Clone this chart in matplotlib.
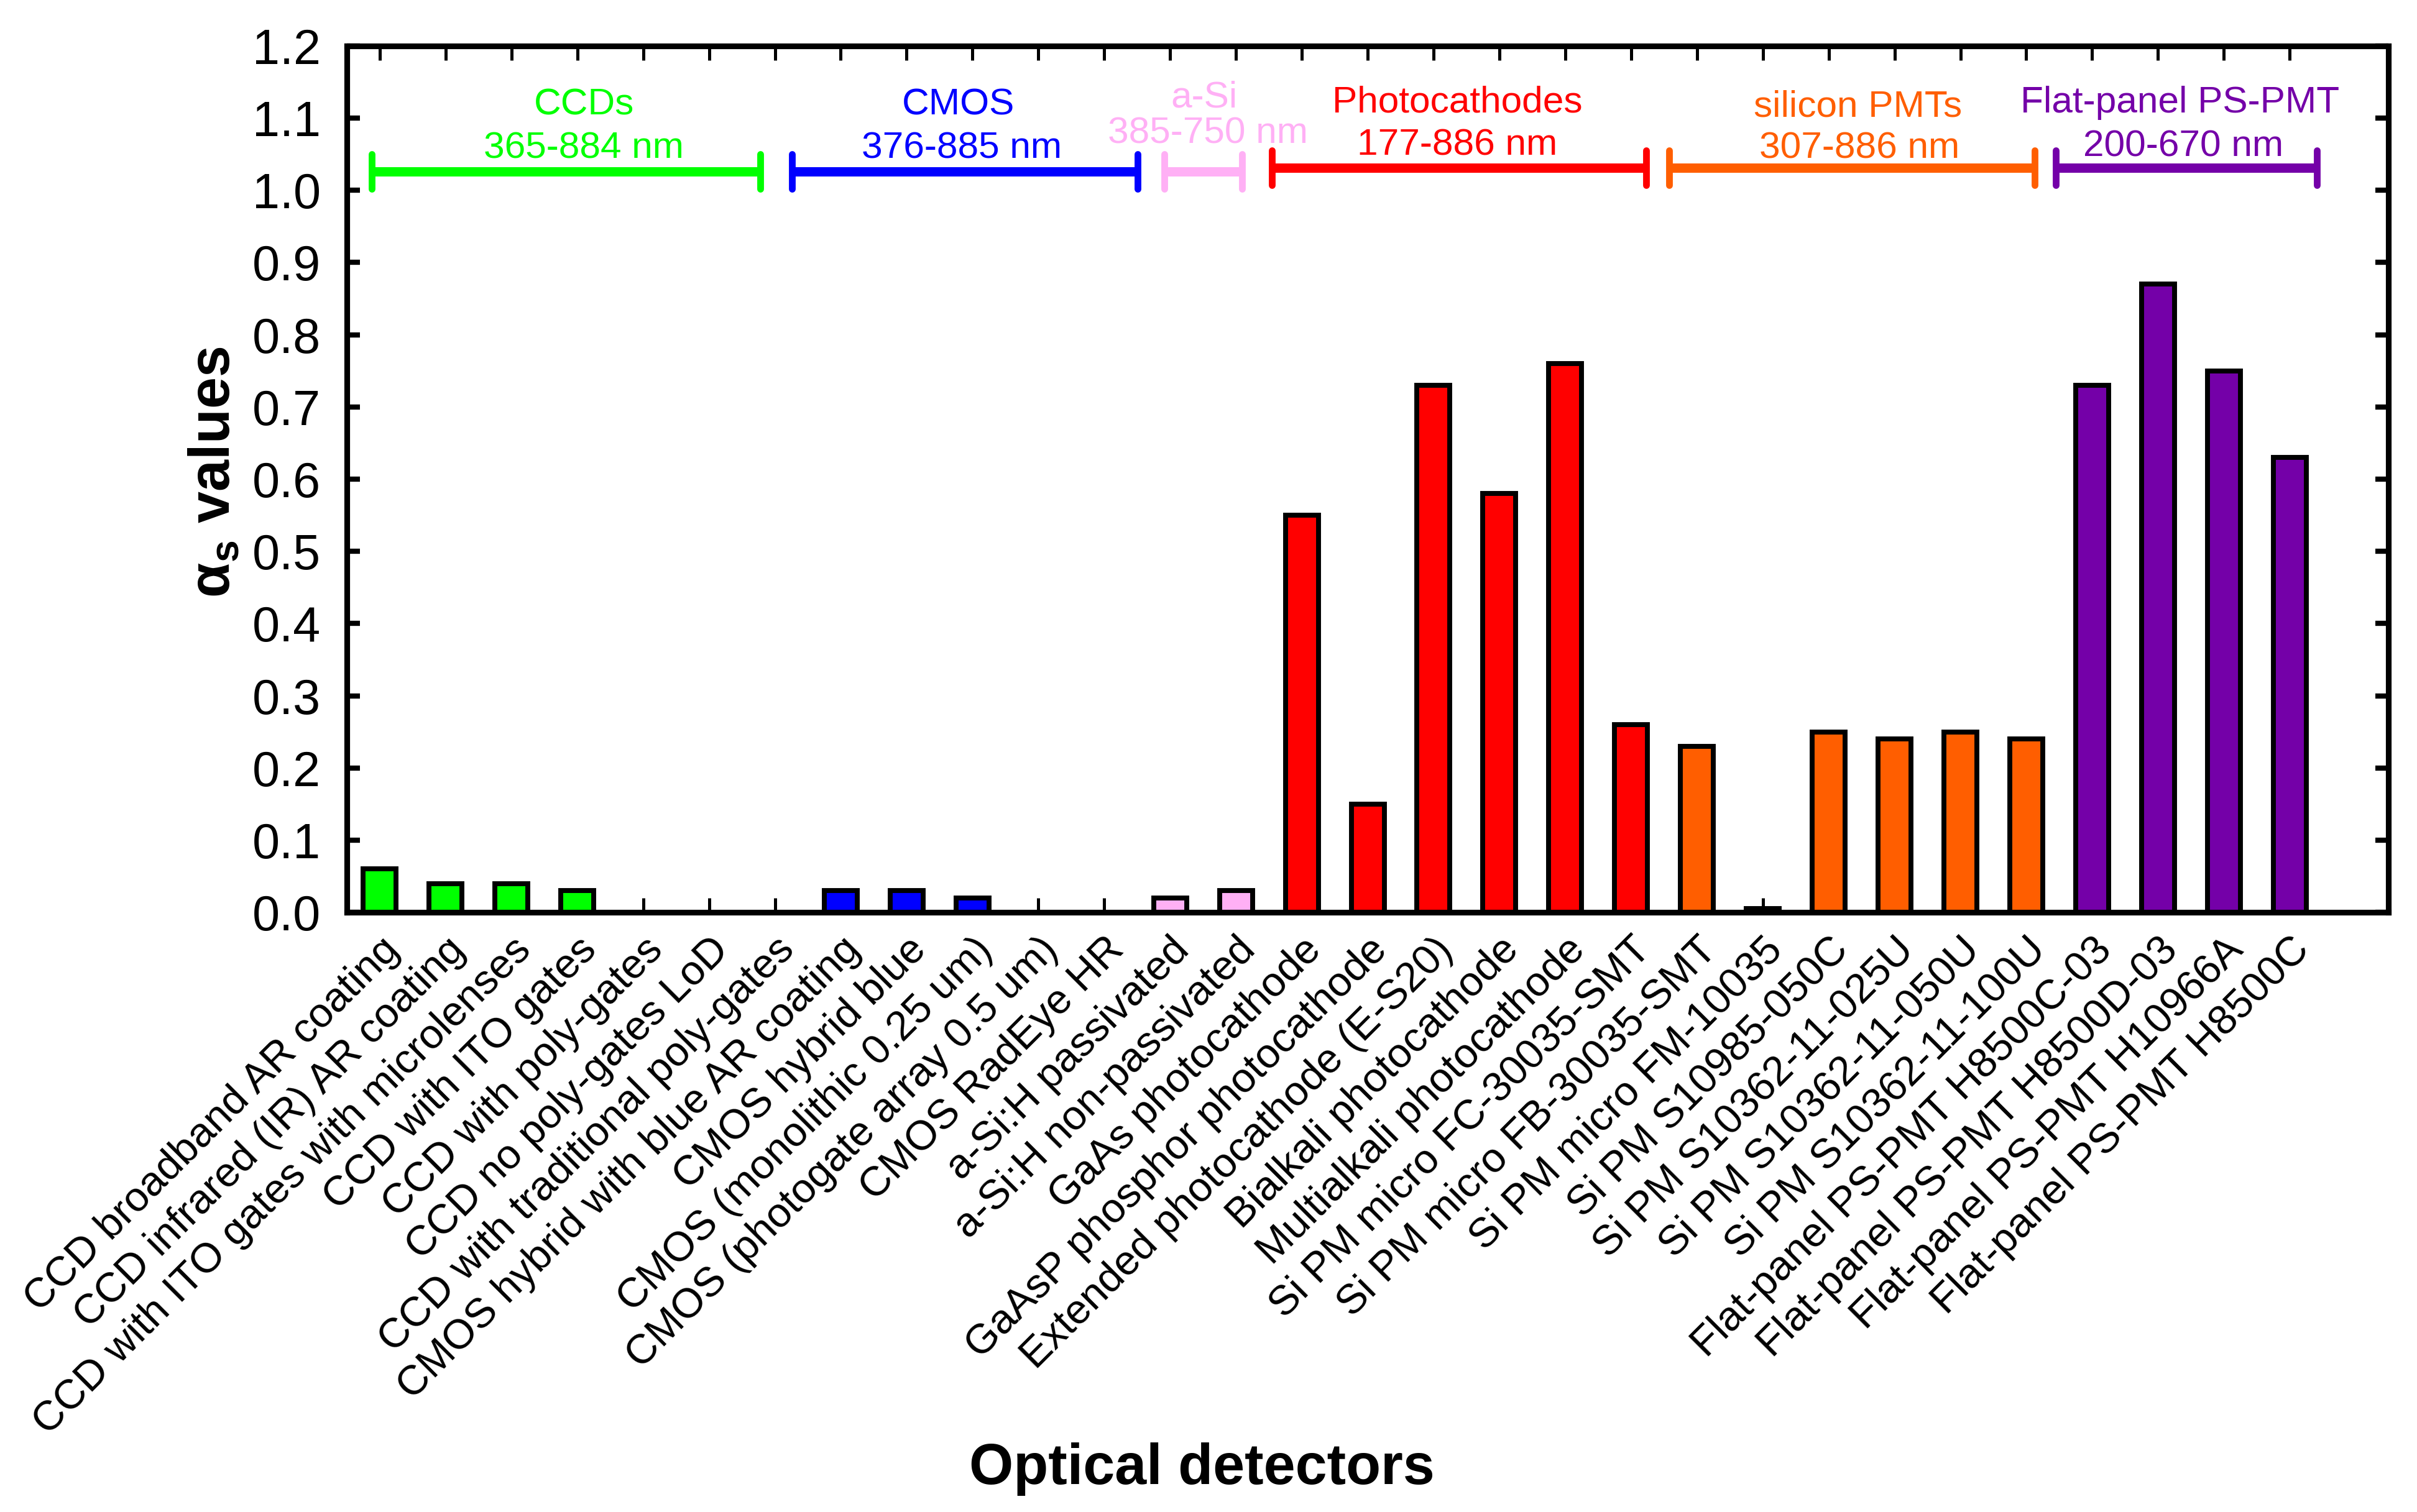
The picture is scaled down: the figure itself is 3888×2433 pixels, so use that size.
import matplotlib
matplotlib.use('Agg')
import matplotlib.pyplot as plt
from matplotlib.transforms import ScaledTranslation
import numpy as np

plt.rcParams['font.family'] = ['Liberation Sans', 'DejaVu Sans']
plt.rcParams['mathtext.fontset'] = 'custom'
plt.rcParams['mathtext.rm'] = 'Liberation Sans'
plt.rcParams['mathtext.bf'] = 'Liberation Sans:bold'

# ---------------- data ----------------
categories = [
    "CCD broadband AR coating",
    "CCD infrared (IR) AR coating",
    "CCD with ITO gates with microlenses",
    "CCD with ITO gates",
    "CCD with poly-gates",
    "CCD no poly-gates LoD",
    "CCD with traditional poly-gates",
    "CMOS hybrid with blue AR coating",
    "CMOS hybrid blue",
    "CMOS (monolithic 0.25 um)",
    "CMOS (photogate array 0.5 um)",
    "CMOS RadEye HR",
    "a-Si:H passivated",
    "a-Si:H non-passivated",
    "GaAs photocathode",
    "GaAsP phosphor photocathode",
    "Extended photocathode (E-S20)",
    "Bialkali photocathode",
    "Multialkali photocathode",
    "Si PM micro FC-30035-SMT",
    "Si PM micro FB-30035-SMT",
    "Si PM micro FM-10035",
    "Si PM S10985-050C",
    "Si PM S10362-11-025U",
    "Si PM S10362-11-050U",
    "Si PM S10362-11-100U",
    "Flat-panel PS-PMT H8500C-03",
    "Flat-panel PS-PMT H8500D-03",
    "Flat-panel PS-PMT H10966A",
    "Flat-panel PS-PMT H8500C",
]

values = [0.06, 0.04, 0.04, 0.03, 0.0, 0.0, 0.0,
          0.03, 0.03, 0.02, 0.0, 0.0,
          0.02, 0.03,
          0.55, 0.15, 0.73, 0.58, 0.76, 0.26,
          0.23, 0.005, 0.25, 0.24, 0.25, 0.24,
          0.73, 0.87, 0.75, 0.63]

group_names = ["CCDs", "CMOS", "a-Si", "Photocathodes", "silicon PMTs", "Flat-panel PS-PMT"]
group_ranges = ["365-884 nm", "376-885 nm", "385-750 nm", "177-886 nm", "307-886 nm", "200-670 nm"]
group_sizes = [7, 5, 2, 6, 6, 4]
group_colors = ["#00FF00", "#0000FF", "#FFB0F5", "#FF0000", "#FF5E00", "#7400A8"]

# ---------------- layout of annotations (data coordinates) ----------------
bracket_spans = [(0.88, 6.78), (7.26, 12.51), (12.91, 14.09),
                 (14.55, 20.23), (20.58, 26.13), (26.45, 30.41)]
bracket_y = [1.026, 1.026, 1.026, 1.031, 1.031, 1.031]
name_pos = [(4.1, 1.123), (9.78, 1.123), (13.52, 1.133),
            (17.36, 1.126), (23.44, 1.120), (28.33, 1.126)]
range_pos = [(4.1, 1.063), (9.84, 1.063), (13.57, 1.083),
             (17.36, 1.067), (23.47, 1.063), (28.38, 1.065)]

# ---------------- figure ----------------
fig = plt.figure(figsize=(12.96, 8.11), dpi=300)
ax = fig.add_axes([0.1435, 0.3966, 0.8447, 0.573])

bar_colors = []
for c, n in zip(group_colors, group_sizes):
    bar_colors += [c] * n

x = np.arange(1, len(categories) + 1)
ax.bar(x, values, width=0.5, color=bar_colors, edgecolor='black',
       linewidth=1.9, zorder=2)

ax.set_axisbelow(True)
ax.set_xlim(0.5, 31.5)
ax.set_ylim(0, 1.2)
ax.set_yticks(np.arange(0, 1.21, 0.1))
ax.set_yticklabels([f"{v:.1f}" for v in np.arange(0, 1.21, 0.1)], fontsize=19)
ax.set_xticks(x)
ax.set_xticklabels(categories, fontsize=16, rotation=45, ha='right',
                   va='top', rotation_mode='anchor')
offset = ScaledTranslation(0.5 / 72, 0, fig.dpi_scale_trans)
for lab in ax.get_xticklabels():
    lab.set_transform(lab.get_transform() + offset)

ax.tick_params(axis='x', which='major', direction='in', top=True, bottom=True,
               length=5.5, width=1.2, pad=7)
ax.tick_params(axis='y', which='major', direction='in', left=True, right=True,
               length=5.0, width=2.0, pad=10)
for s in ax.spines.values():
    s.set_linewidth(2.2)
    s.set_zorder(3)

# group brackets and labels
cap_h = 0.024
for i in range(len(group_names)):
    x0, x1 = bracket_spans[i]
    y = bracket_y[i]
    col = group_colors[i]
    ax.plot([x0, x1], [y, y], color=col, lw=3.6, solid_capstyle='butt',
            zorder=4, clip_on=False)
    for xx in (x0, x1):
        ax.plot([xx, xx], [y - cap_h, y + cap_h], color=col, lw=2.6,
                solid_capstyle='round', zorder=4, clip_on=False)
    nx, ny = name_pos[i]
    rx, ry = range_pos[i]
    ax.text(nx, ny - 0.018, group_names[i], color=col, fontsize=14.5,
            ha='center', va='baseline', zorder=5)
    ax.text(rx, ry - 0.018, group_ranges[i], color=col, fontsize=14.5,
            ha='center', va='baseline', zorder=5)

# axis titles
fig.text(0.0887, 0.6876, r'α$_\mathregular{s}$ values', rotation=90,
         fontsize=22, fontweight='bold', ha='center', va='center')
fig.text(0.4972, 0.0185, 'Optical detectors', fontsize=22, fontweight='bold',
         ha='center', va='baseline')

fig.savefig('out.png', dpi=300)
